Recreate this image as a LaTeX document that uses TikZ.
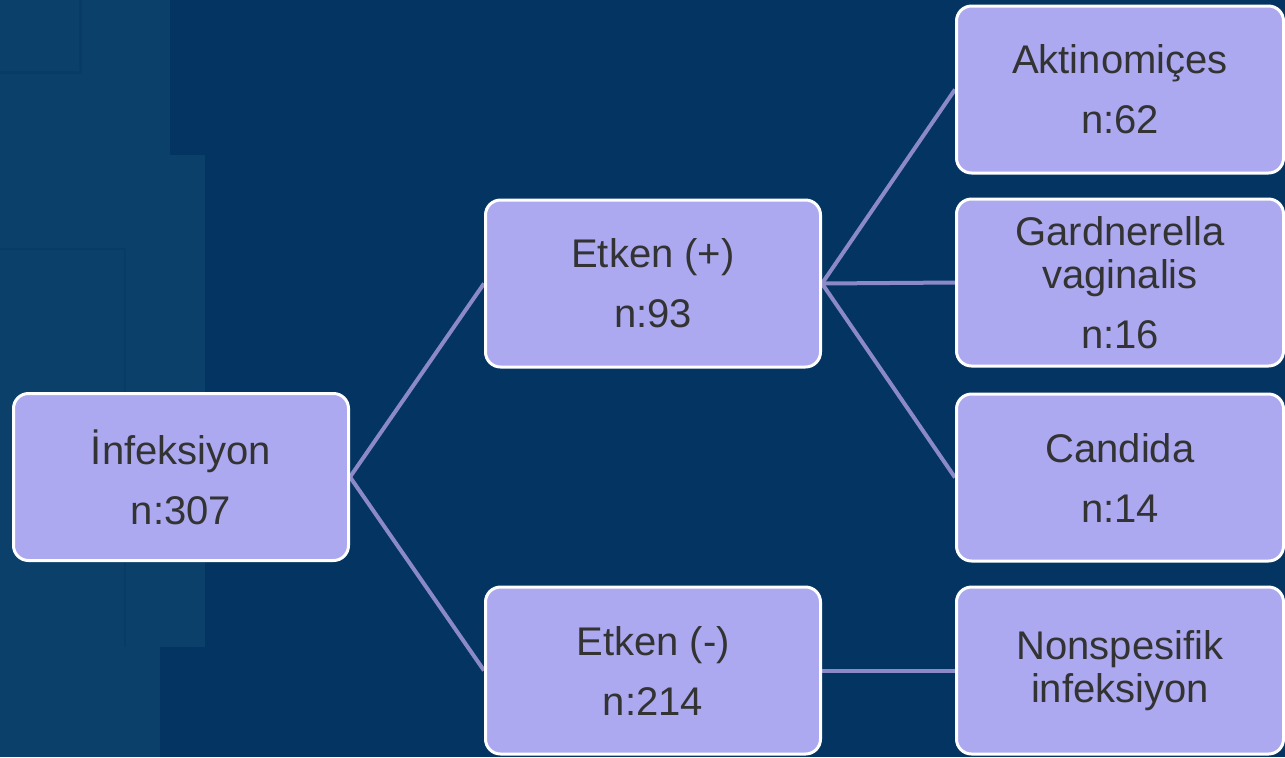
\documentclass[tikz,border=0pt]{standalone}
\usepackage{fontspec}
\setmainfont{Liberation Sans}
\usetikzlibrary{backgrounds}
\definecolor{bgblue}{RGB}{3,52,98}
\definecolor{bglight}{RGB}{11,64,107}
\definecolor{bgline}{RGB}{8,59,102}
\definecolor{boxfill}{RGB}{172,169,240}
\definecolor{linkcol}{RGB}{140,137,200}
\definecolor{txt}{RGB}{51,51,51}
\begin{document}
\begin{tikzpicture}[x=0.5pt, y=-0.5pt,
    box/.style={draw=white, line width=1.5pt, fill=boxfill, rounded corners=7.5pt,
        minimum width=167.5pt, minimum height=83.5pt, inner sep=0pt, align=center,
        text=txt, font=\fontsize{20}{21.5}\selectfont},
    leaf/.style={box, minimum width=163.5pt},
    link/.style={draw=linkcol, line width=2pt}]
    \useasboundingbox (0,0) rectangle (1285,757);

    \node [box] (inf) at (181,477) {İnfeksiyon\\[8.5pt]n:307};
    \node [box] (pos) at (653,283.5) {Etken (+)\\[8.5pt]n:93};
    \node [box] (neg) at (653,670.5) {Etken (-)\\[8.5pt]n:214};

    \node [leaf] (akt) at (1120,89.5) {Aktinomiçes\\[8.5pt]n:62};
    \node [leaf] (gard) at (1120,282.5) {Gardnerella\\vaginalis\\[8.5pt]n:16};
    \node [leaf] (cand) at (1120,477.5) {Candida\\[8.5pt]n:14};
    \node [leaf] (nons) at (1120,670.5) {Nonspesifik\\infeksiyon};

    \begin{scope}[on background layer]
        % backdrop
        \fill [bgblue] (0,0) rectangle (1285,757);
        \fill [bglight] (0,0) rectangle (170,155);
        \draw [bgline, line width=1.5pt] (0,72) -| (80,0);
        \fill [bglight] (0,155) rectangle (205,647);
        \draw [bgline, line width=1pt] (0,249) -| (125,647);
        \fill [bglight] (0,647) rectangle (160,757);

        % links
        \draw [link] (inf.east) -- (pos.west);
        \draw [link] (inf.east) -- (neg.west);
        \draw [link] (pos.east) -- (akt.west);
        \draw [link] (pos.east) -- (gard.west);
        \draw [link] (pos.east) -- (cand.west);
        \draw [link] (neg.east) -- (nons.west);
    \end{scope}
\end{tikzpicture}
\end{document}
